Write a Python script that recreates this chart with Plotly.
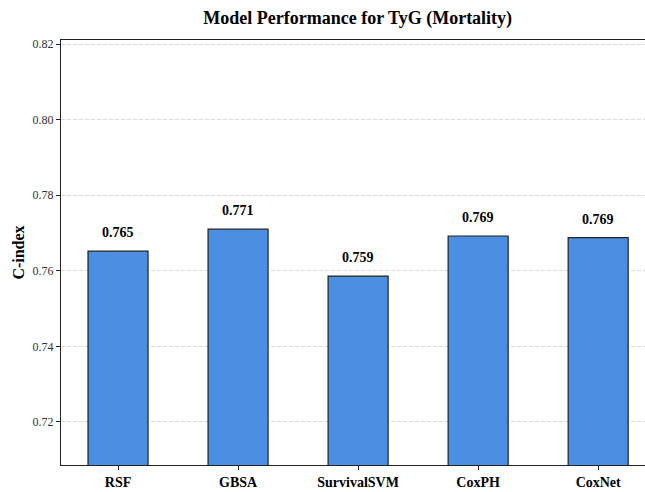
import plotly.graph_objects as go

models = ["RSF", "GBSA", "SurvivalSVM", "CoxPH", "CoxNet"]
cindex = [0.7652, 0.7710, 0.7586, 0.7692, 0.7688]
labels = ["0.765", "0.771", "0.759", "0.769", "0.769"]
yticks = [0.72, 0.74, 0.76, 0.78, 0.80, 0.82]

SERIF = "Liberation Serif, Times New Roman, serif"

fig = go.Figure()
fig.add_trace(go.Bar(
    x=list(range(len(models))), y=cindex, width=0.5,
    marker=dict(color="#4A8FE2", line=dict(color="#222222", width=1.2)),
    showlegend=False,
))
for i, (v, t) in enumerate(zip(cindex, labels)):
    fig.add_annotation(x=i, y=v, text="<b>%s</b>" % t, showarrow=False,
                       yanchor="bottom", yshift=9,
                       font=dict(family=SERIF, size=14, color="#000"))

fig.update_layout(
    width=645, height=492,
    margin=dict(l=61, r=0, t=40, b=27),
    plot_bgcolor="white", paper_bgcolor="white",
    title=dict(text="<b>Model Performance for TyG (Mortality)</b>",
               x=0.508, xanchor="center", xref="paper", y=0.965, yanchor="middle",
               font=dict(family=SERIF, size=18, color="#000")),
    font=dict(family=SERIF),
    bargap=0.5,
)
fig.update_xaxes(
    range=[-0.475, 4.39],
    tickvals=list(range(len(models))),
    ticktext=["<b>%s</b>" % m for m in models],
    tickfont=dict(family=SERIF, size=14, color="#000"),
    showline=True, linecolor="#222", linewidth=1.2, mirror=True,
    ticks="outside", ticklen=4, tickcolor="#222",
    showgrid=False, zeroline=False,
)
fig.update_yaxes(
    range=[0.70862, 0.82106],
    tickvals=yticks, ticktext=["%.2f" % v for v in yticks],
    tickfont=dict(family=SERIF, size=12, color="#333"),
    title=dict(text="<b>C-index</b>", font=dict(family=SERIF, size=16, color="#000"), standoff=3),
    showline=True, linecolor="#222", linewidth=1.2, mirror=False,
    ticks="outside", ticklen=4, tickcolor="#222",
    showgrid=True, gridcolor="#d9d9d9", griddash="4px,2px", gridwidth=1,
    zeroline=False,
)
fig.write_html("out.html", config={"displayModeBar": False},
               post_script="document.body.style.margin='0';")
